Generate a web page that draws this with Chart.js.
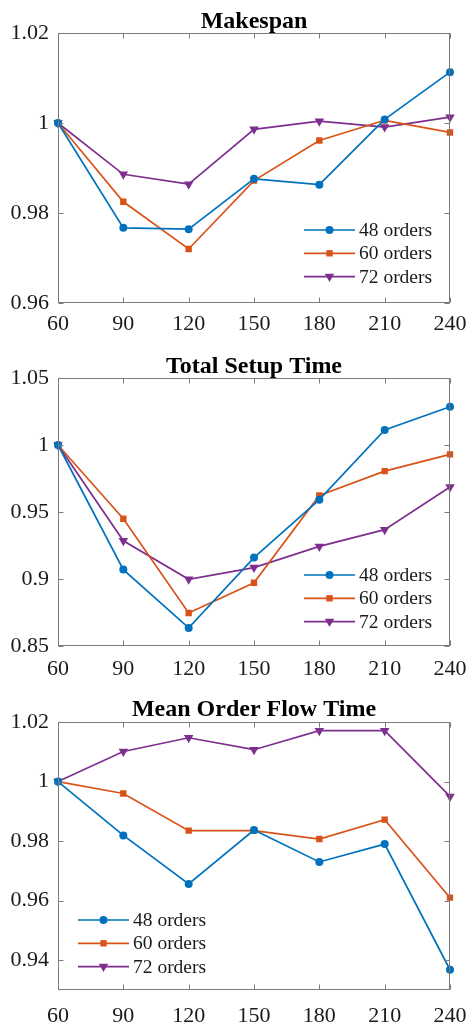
<!DOCTYPE html>
<html>
<head>
<meta charset="utf-8">
<script src="https://cdn.jsdelivr.net/npm/chart.js@4.4.0/dist/chart.umd.min.js"></script>
<style>
html, body { margin: 0; padding: 0; background: #fff; }
#wrap { position: relative; width: 468px; height: 1024px; overflow: hidden; }
canvas { position: absolute; left: 0; }
</style>
</head>
<body>
<div id="wrap">
  <canvas id="c1" width="468" height="340" style="top:0"></canvas>
  <canvas id="c2" width="468" height="340" style="top:340px"></canvas>
  <canvas id="c3" width="468" height="344" style="top:680px"></canvas>
</div>
<script>
const periods = ['60', '90', '120', '150', '180', '210', '240'];
const seriesNames = ['48 orders', '60 orders', '72 orders'];

// Makespan (normalised)
const makespan48 = [1, 0.9767, 0.9764, 0.9876, 0.9863, 1.0008, 1.0113];
const makespan60 = [1, 0.9825, 0.9720, 0.9872, 0.9961, 1.0006, 0.9979];
const makespan72 = [1, 0.9886, 0.9864, 0.9986, 1.0004, 0.9991, 1.0013];
const makespanTicks = [0.96, 0.98, 1, 1.02];

// Total setup time (normalised)
const setup48 = [1, 0.9070, 0.8635, 0.9160, 0.9592, 1.0112, 1.0285];
const setup60 = [1, 0.9450, 0.8746, 0.8972, 0.9624, 0.9805, 0.9930];
const setup72 = [1, 0.9285, 0.8998, 0.9085, 0.9243, 0.9368, 0.9686];
const setupTicks = [0.85, 0.9, 0.95, 1, 1.05];

// Mean order flow time (normalised)
const flow48 = [1, 0.9819, 0.9656, 0.9837, 0.9730, 0.9790, 0.9368];
const flow60 = [1, 0.9960, 0.9835, 0.9835, 0.9807, 0.9872, 0.9610];
const flow72 = [1, 1.0101, 1.0147, 1.0107, 1.0171, 1.0171, 0.9950];
const flowTicks = [0.94, 0.96, 0.98, 1, 1.02];

const colors = ['#0072BD', '#D95319', '#7E2F8E'];
const markers = [
  { pointStyle: 'circle', radius: 4, rotation: 0 },
  { pointStyle: 'rect', radius: 4.5, rotation: 0 },
  { pointStyle: 'triangle', radius: 5.5, rotation: 180 },
];
const serif = "'Liberation Serif', 'Times New Roman', serif";
const ink = '#1a1a1a';
const frame = '#7a7a7a';

// axes box + inward ticks, matlab style
const boxTicks = {
  id: 'boxTicks',
  afterDatasetsDraw(chart) {
    const { ctx, chartArea: a, scales: { x, y } } = chart;
    const len = 5;
    const L = Math.round(a.left) + 0.5, R = Math.round(a.right) - 0.5;
    const T = Math.round(a.top) + 0.5, B = Math.round(a.bottom) - 0.5;
    ctx.save();
    ctx.strokeStyle = frame;
    ctx.lineWidth = 1;
    ctx.strokeRect(L, T, R - L, B - T);
    ctx.beginPath();
    periods.forEach((p, i) => {
      const px = Math.round(x.getPixelForValue(i)) + 0.5;
      ctx.moveTo(px, B); ctx.lineTo(px, B - len);
      ctx.moveTo(px, T); ctx.lineTo(px, T + len);
    });
    y.ticks.forEach(t => {
      const py = Math.round(y.getPixelForValue(t.value)) + 0.5;
      ctx.moveTo(L, py); ctx.lineTo(L + len, py);
      ctx.moveTo(R, py); ctx.lineTo(R - len, py);
    });
    ctx.stroke();
    ctx.restore();
  }
};

// legend drawn inside the axes
const innerLegend = {
  id: 'innerLegend',
  afterDatasetsDraw(chart, args, opts) {
    const { ctx, chartArea: a } = chart;
    const x0 = opts.side === 'left' ? a.left + opts.dx : a.right - opts.dx;
    ctx.save();
    chart.data.datasets.forEach((ds, i) => {
      const yy = a.bottom - opts.dy + i * opts.gap;
      ctx.strokeStyle = ds.borderColor;
      ctx.fillStyle = ds.backgroundColor;
      ctx.lineWidth = ds.borderWidth;
      ctx.beginPath();
      ctx.moveTo(x0, yy); ctx.lineTo(x0 + 51, yy);
      ctx.stroke();
      Chart.helpers.drawPoint(ctx, { pointStyle: ds.pointStyle, rotation: ds.pointRotation, radius: ds.pointRadius, borderWidth: 0 }, x0 + 25.5, yy);
      ctx.fillStyle = ink;
      ctx.font = `19.5px ${serif}`;
      ctx.textBaseline = 'middle';
      ctx.fillText(ds.label, x0 + 55, yy + 1);
    });
    ctx.restore();
  }
};

function makeChart(id, title, titlePad, series, yMin, yMax, yTicks, xHeight, xPad, legendOpts) {
  const tickFont = { family: serif, size: 22 };
  return new Chart(document.getElementById(id), {
    type: 'line',
    data: {
      labels: periods,
      datasets: series.map((d, i) => ({
        label: seriesNames[i],
        data: d,
        borderColor: colors[i],
        backgroundColor: colors[i],
        borderWidth: 1.7,
        pointStyle: markers[i].pointStyle,
        pointRadius: markers[i].radius,
        pointRotation: markers[i].rotation,
        pointBorderWidth: 0,
        tension: 0,
        fill: false,
      })),
    },
    options: {
      responsive: false,
      animation: false,
      devicePixelRatio: 1,
      layout: { padding: { left: 0, right: 18, top: 0, bottom: 0 } },
      plugins: {
        legend: { display: false },
        tooltip: { enabled: false },
        title: {
          display: true, text: title, fullSize: false, color: '#000',
          font: { family: serif, size: 24, weight: 'bold', lineHeight: 0.9 },
          padding: titlePad,
        },
        innerLegend: legendOpts,
      },
      scales: {
        x: {
          type: 'category', offset: false,
          grid: { display: false, drawTicks: false }, border: { display: false },
          ticks: { font: tickFont, color: ink, padding: xPad, maxRotation: 0, autoSkip: false },
          afterFit: s => { s.height = xHeight; s.paddingLeft = 0; s.paddingRight = 0; },
        },
        y: {
          min: yMin, max: yMax,
          grid: { display: false, drawTicks: false }, border: { display: false },
          ticks: { font: tickFont, color: ink, padding: 9, callback: v => String(Math.round(v * 100) / 100) },
          afterBuildTicks: s => { s.ticks = yTicks.map(v => ({ value: v })); },
          afterFit: s => { s.width = 58; s.paddingTop = 0; s.paddingBottom = 0; },
        },
      },
    },
    plugins: [boxTicks, innerLegend],
  });
}

makeChart('c1', 'Makespan', { top: 11.2, bottom: 0.2 }, [makespan48, makespan60, makespan72],
  0.96, 1.02, makespanTicks, 37, 8, { side: 'right', dx: 146, dy: 73, gap: 23.3 });
makeChart('c2', 'Total Setup Time', { top: 16.2, bottom: 0.2 }, [setup48, setup60, setup72],
  0.85, 1.05, setupTicks, 34, 10, { side: 'right', dx: 146, dy: 71, gap: 23.3 });
makeChart('c3', 'Mean Order Flow Time', { top: 19.2, bottom: 1.2 }, [flow48, flow60, flow72],
  0.93, 1.02, flowTicks, 34, 13, { side: 'left', dx: 20, dy: 70, gap: 23.3 });
</script>
</body>
</html>
